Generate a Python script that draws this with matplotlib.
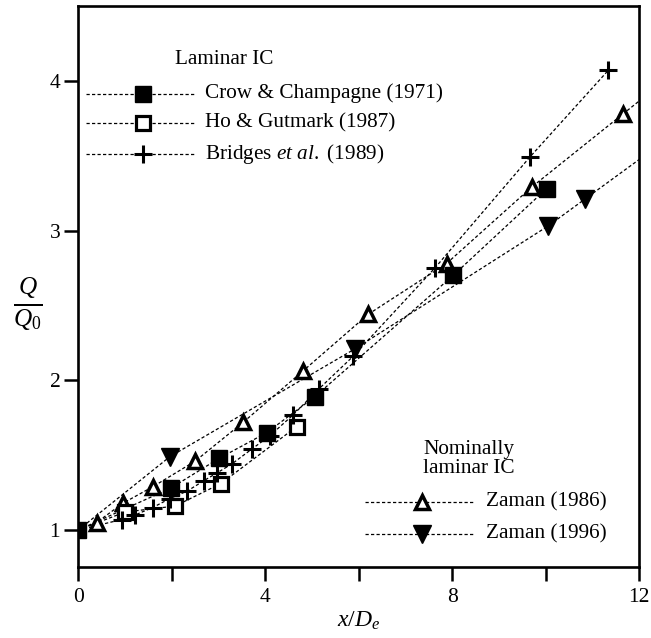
import numpy as np
import matplotlib
matplotlib.use("Agg")
import matplotlib.pyplot as plt

plt.rcParams['font.family'] = ['Liberation Serif', 'DejaVu Serif']
plt.rcParams['mathtext.fontset'] = 'custom'
plt.rcParams['mathtext.rm'] = 'Liberation Serif'
plt.rcParams['mathtext.it'] = 'Liberation Serif:italic'

# data: x/De, Q/Q0
crow_x = [0, 1.98, 3.02, 4.03, 5.06, 8.02, 10.02]
crow_y = [1.0, 1.28, 1.48, 1.65, 1.89, 2.70, 3.28]

ho_x = [0, 1.0, 2.07, 3.05, 4.67]
ho_y = [1.0, 1.12, 1.16, 1.31, 1.69]

bridges_x = [0, 0.93, 1.21, 1.59, 1.96, 2.33, 2.69, 2.96, 3.28, 3.71, 4.1, 4.6,
             5.14, 5.88, 7.63, 9.66, 11.34]
bridges_y = [1.0, 1.07, 1.10, 1.15, 1.21, 1.26, 1.33, 1.38, 1.44, 1.54, 1.63, 1.77,
             1.94, 2.16, 2.75, 3.49, 4.07]

zaman86_x = [0, 0.39, 0.96, 1.6, 2.5, 3.53, 4.8, 6.2, 7.88, 9.70, 11.66]
zaman86_y = [1.0, 1.05, 1.18, 1.29, 1.46, 1.72, 2.06, 2.44, 2.78, 3.29, 3.78]

zaman96_x = [0, 1.96, 5.92, 10.05, 10.84]
zaman96_y = [1.0, 1.49, 2.21, 3.03, 3.21]

xmax = 12

dash = (0, (2.6, 1.8))
lw_line = 0.9


def extend(xs, ys, x_end):
    # carry the last segment on to the frame edge
    slope = (ys[-1] - ys[-2]) / (xs[-1] - xs[-2])
    return list(xs) + [x_end], list(ys) + [ys[-1] + slope * (x_end - xs[-1])]


fig = plt.figure(figsize=(6.51, 6.38), dpi=100)
ax = fig.add_axes([0.1203, 0.1113, 0.8614, 0.8793])

styles = {
    'crow': dict(marker='s', ms=11.5, mfc='black', mec='black', mew=1.0),
    'ho': dict(marker='s', ms=10.5, mfc='white', mec='black', mew=2.3),
    'bridges': dict(marker='+', ms=13.5, mec='black', mew=2.2),
    'z86': dict(marker='^', ms=10.5, mfc='white', mec='black', mew=2.5),
    'z96': dict(marker='v', ms=13.5, mfc='black', mec='black', mew=1.0),
}

x86, y86 = extend(zaman86_x, zaman86_y, xmax + 0.5)
x96, y96 = extend(zaman96_x, zaman96_y, xmax + 0.5)

for xs, ys in [(crow_x, crow_y), (ho_x, ho_y), (bridges_x, bridges_y), (x86, y86), (x96, y96)]:
    ax.plot(xs, ys, color='black', lw=lw_line, ls=dash, zorder=1)

ax.plot(zaman86_x[1:], zaman86_y[1:], ls='none', zorder=3, **styles['z86'])
ax.plot(zaman96_x[1:], zaman96_y[1:], ls='none', zorder=3, **styles['z96'])
ax.plot(ho_x[1:], ho_y[1:], ls='none', zorder=3, **styles['ho'])
ax.plot(bridges_x[1:], bridges_y[1:], ls='none', zorder=4, **styles['bridges'])
ax.plot(crow_x, crow_y, ls='none', zorder=5, **styles['crow'])

ax.set_xlim(0, xmax)
ax.set_ylim(0.753, 4.5)

ax.set_xticks(np.arange(0, 13, 2))
ax.set_xticklabels([str(v) if v % 4 == 0 else '' for v in range(0, 13, 2)])
ax.set_yticks([1, 2, 3, 4])
ax.tick_params(direction='out', length=10, width=1.8, labelsize=15.5, color='black')
ax.tick_params(axis='x', pad=5)
ax.tick_params(axis='y', pad=3)
for s in ax.spines.values():
    s.set_linewidth(1.9)

ax.set_xlabel(r'$x/D_e$', fontsize=17, labelpad=2)
fig.text(0.043, 1 - 304 / 638, r'$\frac{Q}{Q_0}$', fontsize=26, ha='center', va='center')


# hand-drawn keys, as in the original
def key(x0, x1, xm, xt, y, label, st):
    ax.plot([x0, x1], [y, y], transform=ax.transAxes, color='black', lw=lw_line, ls=dash)
    ax.plot([xm], [y], transform=ax.transAxes, ls='none', **st)
    ax.text(xt, y, label, transform=ax.transAxes, fontsize=15.3, va='center', ha='left')


ax.text(0.172, 0.904, 'Laminar IC', transform=ax.transAxes, fontsize=15.3, va='center')
key(0.0137, 0.208, 0.115, 0.226, 0.844, 'Crow & Champagne (1971)', styles['crow'])
key(0.0137, 0.208, 0.115, 0.226, 0.791, 'Ho & Gutmark (1987)', styles['ho'])
key(0.0137, 0.208, 0.115, 0.226, 0.737, r'$\mathrm{Bridges}\ et\ al.\ \mathrm{(1989)}$', styles['bridges'])

ax.text(0.615, 0.193, 'Nominally\nlaminar IC', transform=ax.transAxes, fontsize=15.3,
        va='center', linespacing=1.0)
key(0.511, 0.707, 0.612, 0.727, 0.116, 'Zaman (1986)', styles['z86'])
key(0.511, 0.707, 0.612, 0.727, 0.059, 'Zaman (1996)', styles['z96'])

fig.savefig('out.png', dpi=100)
